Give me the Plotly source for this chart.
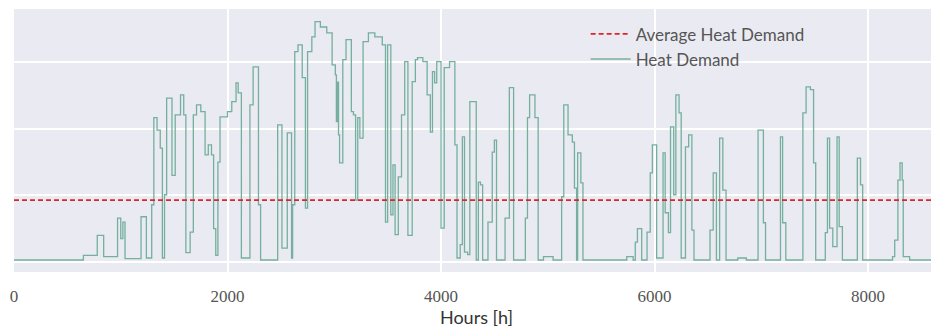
import plotly.graph_objects as go

# Step profile of the hourly heat demand (start hour of each step, value in grid units)
hours = [0, 650, 780, 840, 970, 1000, 1020, 1040, 1190, 1240, 1290, 1310, 1340, 1370, 1390,
         1410, 1430, 1480, 1510, 1560, 1590, 1610, 1650, 1680, 1710, 1750, 1790, 1820, 1850,
         1870, 1890, 1910, 1930, 2000, 2040, 2080, 2100, 2130, 2210, 2240, 2290, 2310, 2470,
         2510, 2560, 2600, 2610, 2630, 2660, 2700, 2730, 2750, 2790, 2820, 2870, 2930, 2980,
         3010, 3020, 3030, 3040, 3050, 3080, 3110, 3160, 3180, 3200, 3220, 3240, 3270, 3320,
         3380, 3450, 3480, 3500, 3530, 3550, 3570, 3600, 3630, 3660, 3690, 3730, 3760, 3780,
         3830, 3870, 3900, 3920, 3940, 3960, 4000, 4030, 4080, 4130, 4150, 4180, 4200, 4220,
         4250, 4270, 4330, 4350, 4370, 4390, 4440, 4480, 4500, 4520, 4600, 4640, 4680, 4790,
         4810, 4830, 4880, 4910, 4960, 5050, 5130, 5150, 5190, 5230, 5250, 5270, 5280, 5310,
         5330, 5740, 5800, 5820, 5840, 5880, 5930, 5960, 5980, 6020, 6050, 6080, 6100, 6130,
         6150, 6180, 6200, 6230, 6250, 6290, 6320, 6350, 6370, 6520, 6550, 6580, 6610, 6640,
         6670, 6780, 6860, 6970, 7020, 7040, 7180, 7200, 7230, 7390, 7420, 7460, 7490, 7510,
         7600, 7620, 7640, 7670, 7710, 7730, 7760, 7900, 7930, 7950, 8230, 8250, 8280, 8300,
         8320, 8330, 8390, 8760]
demand = [0.03, 0.10, 0.40, 0.08, 0.66, 0.35, 0.60, 0.05, 0.68, 0.06, 0.86, 2.17, 1.98, 1.71, 0.06,
          1.01, 2.46, 1.30, 2.21, 2.51, 2.21, 0.14, 0.45, 2.21, 2.36, 2.26, 1.61, 1.76, 1.61,
          0.50, 0.10, 1.50, 2.18, 2.26, 2.41, 2.69, 2.54, 0.06, 2.36, 2.93, 0.86, 0.03, 2.06,
          0.21, 1.94, 0.06, 0.86, 3.16, 3.26, 2.77, 0.81, 3.16, 3.38, 3.61, 3.53, 3.44, 2.96,
          2.81, 2.11, 2.70, 1.91, 1.49, 3.04, 3.34, 2.26, 2.21, 0.93, 2.17, 1.86, 3.31, 3.44,
          3.38, 3.26, 0.60, 3.26, 0.71, 1.46, 0.41, 1.28, 2.21, 3.01, 0.40, 2.71, 3.04, 3.07,
          3.01, 2.51, 1.95, 2.86, 2.69, 3.01, 0.51, 2.92, 3.01, 1.76, 0.06, 0.26, 1.88, 0.15,
          0.11, 2.41, 0.03, 1.20, 1.16, 0.03, 0.60, 1.65, 1.83, 0.03, 0.66, 2.62, 0.03, 0.66,
          2.17, 2.51, 2.17, 0.03, 0.08, 0.03, 0.98, 2.36, 1.91, 1.80, 1.11, 0.03, 1.64, 1.19,
          0.03, 0.08, 0.03, 0.30, 0.50, 0.03, 0.45, 1.34, 1.76, 0.06, 0.06, 1.64, 0.74, 0.44,
          2.03, 1.01, 2.51, 2.24, 0.06, 1.73, 1.91, 0.48, 0.03, 0.48, 1.34, 0.03, 1.86, 1.08,
          0.03, 0.06, 0.03, 1.98, 0.59, 0.03, 1.88, 0.59, 0.03, 2.24, 2.63, 2.59, 1.49, 0.03,
          0.44, 1.86, 0.51, 0.23, 1.88, 0.53, 0.03, 1.56, 1.16, 0.03, 0.08, 0.33, 1.23, 1.49,
          1.23, 0.08, 0.03, 0.03]

average_demand = 0.93
x_ticks = [0, 2000, 4000, 6000, 8000]
x_tick_labels = ["0", "2000", "4000", "6000", "8000"]
y_grid = [0, 1, 2, 3]

fig = go.Figure()
fig.add_trace(go.Scatter(
    x=hours, y=demand, mode="lines", name="Heat Demand",
    line=dict(color="#74b09d", width=1.3, shape="hv"), legendrank=2,
))
fig.add_trace(go.Scatter(
    x=[0, 8760], y=[average_demand, average_demand], mode="lines",
    name="Average Heat Demand",
    line=dict(color="#e0242c", width=1.6, dash="5px,3px"), legendrank=1,
))

# the page body adds an 8px offset, so the figure is sized to fit the window
fig.update_layout(
    width=931, height=321,
    margin=dict(l=6, r=0, t=1, b=57, autoexpand=False),
    paper_bgcolor="white", plot_bgcolor="#EAEAF2",
    showlegend=True,
    legend=dict(x=0.618, y=0.972, xanchor="left", yanchor="top",
                bgcolor="rgba(0,0,0,0)", font=dict(family="Lato, sans-serif", size=17, color="#555"),
                tracegroupgap=0, itemwidth=40),
    font=dict(family="Lato, sans-serif", color="#333"),
)
fig.update_xaxes(
    range=[0, 8665], tickvals=x_ticks, ticktext=x_tick_labels, automargin=False,
    showgrid=True, gridcolor="white", gridwidth=1.5, zeroline=False, showline=False,
    ticks="outside", ticklen=9, tickcolor="rgba(0,0,0,0)",
    tickfont=dict(family="Liberation Serif, serif", size=17, color="#555"),
    title=dict(text="Hours [h]", font=dict(family="Lato, sans-serif", size=18, color="#333"), standoff=5),
)
fig.update_yaxes(
    range=[-0.15, 3.80], tickvals=y_grid, showticklabels=False, automargin=False,
    showgrid=True, gridcolor="white", gridwidth=1.5, zeroline=False, showline=False,
)

fig.write_html("out.html")
